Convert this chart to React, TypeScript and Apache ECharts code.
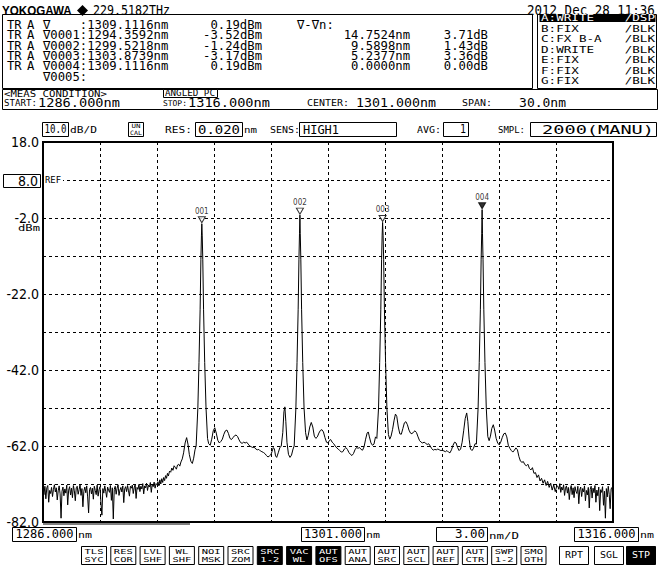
import React, { useEffect, useRef } from "react";
import * as echarts from "echarts";

// ---------- axis setup ----------
const X_MIN = 1286;
const X_MAX = 1316;
const X_STEP = 3;
const Y_MIN = -82;
const Y_MAX = 18;
const Y_STEP = 10;
const yLabelValues = [18, -2, -22, -42, -62, -82];
const yLabelTexts = ["18.0", "-2.0", "-22.0", "-42.0", "-62.0", "-82.0"];

// ---------- trace data (nm, dBm) ----------
const noiseStep = 0.05;
const noiseLeftStart = 1286.0;
const noiseLeft = [
  -73.2, -74.8, -72.6, -75.9, -73.0, -72.4, -76.8, -73.7, -74.5, -72.9,
  -75.3, -73.4, -72.2, -74.1, -73.0, -76.2, -73.8, -72.5, -74.6, -81.0,
  -73.9, -72.8, -75.1, -73.3, -74.4, -72.3, -77.5, -73.6, -72.7, -74.9,
  -73.1, -75.6, -72.4, -73.8, -76.4, -73.0, -72.6, -74.7, -73.5, -72.1,
  -75.0, -73.2, -78.0, -73.9, -72.8, -74.3, -72.5, -75.4, -79.6, -73.4,
  -72.9, -74.6, -73.1, -76.0, -72.6, -73.7, -74.8, -72.3, -75.2, -73.5,
  -72.7, -77.0, -80.2, -73.2, -74.4, -72.5, -73.9, -75.5, -72.8, -73.6,
  -74.2, -72.4, -76.3, -73.0, -81.2, -73.4, -72.6, -74.7, -73.1, -72.2,
  -75.0, -73.6, -72.9, -74.1, -72.5, -76.9, -73.3, -72.7, -74.0, -72.4,
  -73.8, -75.2, -72.6, -73.1, -72.3, -74.5, -73.0, -72.2, -75.8, -72.9,
  -73.4, -72.1, -74.0, -72.6, -73.3, -71.9, -74.6, -72.5, -73.0, -71.8,
  -73.7, -72.3, -72.8, -71.6, -74.2, -72.0, -72.7, -71.5, -73.1, -71.9,
  -72.2,
];

const riseLeft = [
  [1292.05, -71.4], [1292.10, -72.5], [1292.15, -70.9], [1292.20, -72.0], [1292.25, -70.6],
  [1292.30, -71.6], [1292.35, -70.3], [1292.40, -71.1], [1292.45, -69.8], [1292.50, -70.5],
  [1292.55, -69.2], [1292.60, -69.9], [1292.66, -68.6], [1292.72, -68.9], [1292.78, -67.8],
  [1292.84, -68.4], [1292.90, -67.2], [1292.96, -67.6], [1293.02, -68.1], [1293.08, -67.0],
  [1293.14, -66.8], [1293.20, -67.3], [1293.26, -66.2], [1293.33, -65.4], [1293.40, -63.8],
  [1293.48, -61.2], [1293.56, -59.8], [1293.63, -61.5], [1293.70, -64.2], [1293.78, -66.0],
  [1293.86, -66.6], [1293.93, -65.2], [1294.00, -63.0],
];

const peak1 = [
  [1294.06, -62.0], [1294.15, -52.0], [1294.21, -40.0], [1294.27, -26.0], [1294.31, -13.0],
  [1294.34, -6.5], [1294.3592, -3.52], [1294.38, -6.5], [1294.41, -13.0], [1294.45, -26.0],
  [1294.51, -40.0], [1294.58, -52.0], [1294.66, -60.0],
];

const between12 = [
  [1294.72, -61.4], [1294.80, -61.8], [1294.88, -60.2], [1294.96, -58.0], [1295.04, -57.2],
  [1295.12, -58.6], [1295.20, -60.5], [1295.28, -61.2], [1295.36, -60.8], [1295.44, -60.2],
  [1295.52, -58.9], [1295.60, -58.0], [1295.68, -57.8], [1295.76, -58.7], [1295.84, -60.0],
  [1295.92, -60.3], [1296.00, -59.8], [1296.08, -59.3], [1296.16, -59.1], [1296.24, -59.5],
  [1296.32, -60.4], [1296.40, -61.1], [1296.48, -61.3], [1296.56, -61.0], [1296.64, -61.2],
  [1296.72, -61.0], [1296.80, -61.5], [1296.88, -62.0], [1296.96, -62.2], [1297.04, -62.4],
  [1297.12, -62.3], [1297.20, -62.8], [1297.28, -63.0], [1297.36, -62.9], [1297.44, -63.3],
  [1297.52, -63.5], [1297.60, -63.7], [1297.68, -64.0], [1297.76, -64.5], [1297.84, -64.9],
  [1297.92, -64.6], [1298.00, -64.2], [1298.06, -63.4], [1298.12, -62.4], [1298.18, -62.8],
  [1298.24, -64.6], [1298.30, -65.0], [1298.38, -63.8], [1298.46, -62.5], [1298.54, -62.0],
  [1298.62, -58.5], [1298.68, -53.0], [1298.73, -51.7], [1298.78, -55.5], [1298.84, -61.0],
  [1298.92, -64.2], [1299.00, -65.0], [1299.08, -64.4], [1299.16, -62.8],
];

const peak2 = [
  [1299.22, -62.0], [1299.31, -52.0], [1299.37, -40.0], [1299.43, -26.0], [1299.47, -13.0],
  [1299.50, -6.0], [1299.5218, -1.24], [1299.54, -6.0], [1299.57, -13.0], [1299.61, -26.0],
  [1299.67, -40.0], [1299.74, -52.0], [1299.82, -58.5],
];

const between23 = [
  [1299.89, -60.4], [1299.96, -59.2], [1300.04, -57.0], [1300.12, -55.8], [1300.20, -57.0],
  [1300.28, -59.4], [1300.36, -60.0], [1300.44, -59.6], [1300.52, -58.6], [1300.60, -57.9],
  [1300.68, -57.7], [1300.76, -58.3], [1300.84, -59.8], [1300.92, -61.0], [1301.00, -61.2],
  [1301.08, -60.5], [1301.14, -60.3], [1301.22, -61.0], [1301.30, -61.4], [1301.38, -62.0],
  [1301.46, -62.5], [1301.54, -62.8], [1301.62, -63.2], [1301.70, -63.6], [1301.78, -63.5],
  [1301.86, -62.8], [1301.94, -62.4], [1302.02, -62.9], [1302.10, -63.7], [1302.18, -64.2],
  [1302.26, -64.5], [1302.34, -64.0], [1302.42, -63.0], [1302.50, -62.4], [1302.58, -62.6],
  [1302.66, -62.4], [1302.74, -62.9], [1302.82, -63.1], [1302.90, -62.2], [1302.98, -60.2],
  [1303.06, -58.6], [1303.12, -58.3], [1303.18, -59.6], [1303.26, -61.2], [1303.34, -61.8],
  [1303.42, -61.5], [1303.50, -59.6],
];

const peak3 = [
  [1303.57, -60.0], [1303.66, -52.0], [1303.72, -40.0], [1303.78, -26.0], [1303.82, -13.0],
  [1303.85, -6.5], [1303.8739, -3.17], [1303.90, -6.5], [1303.93, -13.0], [1303.97, -26.0],
  [1304.03, -40.0], [1304.10, -52.0], [1304.18, -59.0],
];

const between34 = [
  [1304.25, -60.2], [1304.32, -59.4], [1304.40, -57.6], [1304.48, -55.2], [1304.55, -53.6],
  [1304.62, -54.2], [1304.70, -57.0], [1304.78, -58.8], [1304.86, -58.9], [1304.94, -57.4],
  [1305.02, -55.9], [1305.10, -55.6], [1305.18, -56.4], [1305.26, -57.8], [1305.34, -58.6],
  [1305.42, -58.8], [1305.50, -58.3], [1305.58, -58.0], [1305.66, -58.5], [1305.74, -59.6],
  [1305.82, -60.6], [1305.90, -61.0], [1305.98, -61.2], [1306.06, -61.0], [1306.14, -61.3],
  [1306.22, -61.6], [1306.30, -61.4], [1306.38, -62.0], [1306.46, -62.7], [1306.54, -63.1],
  [1306.62, -62.9], [1306.70, -63.0], [1306.78, -62.8], [1306.86, -63.0], [1306.94, -63.2],
  [1307.02, -63.1], [1307.10, -63.3], [1307.18, -63.5], [1307.26, -63.2], [1307.34, -63.6],
  [1307.42, -63.8], [1307.50, -63.0], [1307.58, -61.8], [1307.66, -61.0], [1307.74, -61.2],
  [1307.82, -62.4], [1307.90, -63.2], [1307.98, -62.8], [1308.06, -61.0], [1308.14, -58.0],
  [1308.22, -54.8], [1308.30, -53.3], [1308.36, -55.5], [1308.43, -60.2], [1308.50, -62.8],
  [1308.58, -63.2], [1308.66, -62.6], [1308.74, -61.4],
];

const peak4 = [
  [1308.81, -61.5], [1308.90, -52.0], [1308.96, -40.0], [1309.02, -26.0], [1309.06, -13.0],
  [1309.09, -6.0], [1309.1116, 0.19], [1309.13, -6.0], [1309.16, -13.0], [1309.20, -26.0],
  [1309.26, -40.0], [1309.33, -52.0], [1309.41, -59.5],
];

const fallRight = [
  [1309.48, -60.6], [1309.55, -59.4], [1309.62, -57.4], [1309.70, -56.4], [1309.77, -57.8],
  [1309.85, -60.0], [1309.93, -61.2], [1310.01, -61.7], [1310.09, -61.0], [1310.17, -59.8],
  [1310.25, -58.8], [1310.33, -58.6], [1310.41, -59.6], [1310.49, -61.8], [1310.57, -62.6],
  [1310.65, -63.2], [1310.73, -63.6], [1310.81, -63.1], [1310.89, -62.5], [1310.97, -63.0],
  [1311.05, -64.8], [1311.13, -66.0], [1311.21, -66.3], [1311.28, -66.1], [1311.36, -66.9],
  [1311.44, -67.2], [1311.52, -66.8], [1311.60, -67.9], [1311.68, -68.3], [1311.76, -67.7],
  [1311.84, -69.2], [1311.92, -69.0], [1312.00, -70.3], [1312.08, -69.6], [1312.16, -71.2],
  [1312.24, -70.5], [1312.32, -71.8], [1312.40, -70.9], [1312.48, -72.4], [1312.56, -71.3],
  [1312.64, -72.9], [1312.72, -71.8], [1312.80, -73.6], [1312.88, -72.2], [1312.96, -74.0],
  [1313.04, -72.5],
];

const noiseRightStart = 1313.1;
const noiseRight = [
  -72.6, -73.4, -71.9, -74.2, -72.8, -73.6, -72.2, -75.0, -73.1, -72.5,
  -74.4, -72.9, -76.1, -73.3, -72.4, -74.8, -73.0, -75.6, -72.7, -73.9,
  -74.5, -72.6, -77.2, -73.5, -72.8, -75.3, -73.2, -74.1, -72.5, -76.4,
  -73.7, -74.9, -72.9, -78.3, -73.4, -72.6, -75.7, -73.1, -74.3, -72.4,
  -76.8, -73.6, -75.1, -72.8, -79.0, -73.5, -74.2, -72.7, -77.6, -73.9,
  -81.0, -73.2, -75.4, -72.6, -74.7, -78.5, -73.3, -72.9, -75.9,
];

// ---------- markers ----------
const markerNames = ["001", "002", "003", "004"];
const markerWl = [1294.3592, 1299.5218, 1303.8739, 1309.1116];
const markerDbm = [-3.52, -1.24, -3.17, 0.19];
const activeMarker = 3;

// ---------- readout texts ----------
const markerRows = [
  { prefix: "TR", tr: "A", name: "\u2207    :1309.1116nm", level: "0.19dBm", dwl: "", dlv: "" },
  { prefix: "TR", tr: "A", name: "\u22070001:1294.3592nm", level: "-3.52dBm", dwl: "14.7524nm", dlv: "3.71dB" },
  { prefix: "TR", tr: "A", name: "\u22070002:1299.5218nm", level: "-1.24dBm", dwl: "9.5898nm", dlv: "1.43dB" },
  { prefix: "TR", tr: "A", name: "\u22070003:1303.8739nm", level: "-3.17dBm", dwl: "5.2377nm", dlv: "3.36dB" },
  { prefix: "TR", tr: "A", name: "\u22070004:1309.1116nm", level: "0.19dBm", dwl: "0.0000nm", dlv: "0.00dB" },
  { prefix: "", tr: "", name: "\u22070005:", level: "", dwl: "", dlv: "" },
];
const traceRows = [
  ["A:WRITE", "/DSP"], ["B:FIX", "/BLK"], ["C:FX B-A", "/BLK"], ["D:WRITE", "/BLK"],
  ["E:FIX", "/BLK"], ["F:FIX", "/BLK"], ["G:FIX", "/BLK"],
];
const softKeys = [
  ["TLS", "SYC"], ["RES", "COR"], ["LVL", "SHF"], ["WL", "SHF"], ["NOI", "MSK"], ["SRC", "ZOM"],
  ["SRC", "1-2"], ["VAC", "WL"], ["AUT", "OFS"], ["AUT", "ANA"], ["AUT", "SRC"], ["AUT", "SCL"],
  ["AUT", "REF"], ["AUT", "CTR"], ["SWP", "1-2"], ["SMO", "OTH"],
];
const softKeysDark = [6, 7, 8];
const bigKeys = ["RPT", "SGL", "STP"];

const MONO = '"DejaVu Sans Mono", "Liberation Mono", monospace';
const NARROW = '"Liberation Sans Narrow", "DejaVu Sans Condensed", sans-serif';
const SANS = '"Liberation Sans", Arial, sans-serif';
const ADV = 0.602;

type TOpt = { fs?: number; w?: number; sx?: number; sy?: number; align?: string; fill?: string; family?: string; weight?: string };
function txt(text: string, x: number, y: number, o: TOpt = {}) {
  const fs = o.fs ?? 14;
  const align = o.align ?? "left";
  let sx = o.sx ?? 1;
  if (o.w) sx = o.w / (text.length * ADV * fs);
  const family = o.family ?? MONO;
  const weight = o.weight ?? "normal";
  return {
    type: "text",
    x,
    y,
    scaleX: sx,
    scaleY: o.sy ?? 1,
    z: 100,
    silent: true,
    style: {
      text,
      fill: o.fill ?? "#000",
      font: `${weight} ${fs}px ${family}`,
      textAlign: align,
      textVerticalAlign: "middle",
      align,
      verticalAlign: "middle",
    },
  };
}
function box(x: number, y: number, w: number, h: number, fill = "#fff", z = 90) {
  return {
    type: "rect",
    z,
    silent: true,
    shape: { x: x + 0.5, y: y + 0.5, width: w, height: h },
    style: { fill, stroke: "#000", lineWidth: 1 },
  };
}

function buildGraphic() {
  const g: any[] = [];
  // header
  g.push(txt("YOKOGAWA", 2, 10.5, { family: SANS, weight: "bold", fs: 12.5, sx: 0.93 }));
  g.push({
    type: "polygon",
    z: 100,
    shape: { points: [[82.5, 5], [88, 10.5], [82.5, 16], [77, 10.5]] },
    style: { fill: "#000" },
  });
  g.push(txt("229.5182THz", 93, 10.5, { w: 77 }));
  g.push(txt("2012 Dec 28 11:36", 527, 10.5, { w: 128 }));

  // marker box
  g.push(box(2, 14, 530, 74, "#fff", 80));
  const rowY = [24.5, 34.8, 45.1, 55.4, 65.7, 76];
  markerRows.forEach((r, i) => {
    const y = rowY[i];
    const o = { fs: 12.5, sx: 0.98, sy: 1.05 };
    if (r.prefix) g.push(txt(r.prefix, 7, y, o));
    if (r.tr) g.push(txt(r.tr, 27, y, o));
    g.push(txt(r.name, 43, y, o));
    if (r.level) g.push(txt(r.level, 262, y, { ...o, align: "right" }));
    if (r.dwl) g.push(txt(r.dwl, 410, y, { ...o, align: "right" }));
    if (r.dlv) g.push(txt(r.dlv, 488, y, { ...o, align: "right" }));
  });
  g.push(txt("\u2207-\u2207n:", 297, rowY[0], { fs: 12.5, sx: 0.98, sy: 1.05 }));

  // trace list box
  g.push(box(537, 14, 119, 74, "#fff", 80));
  g.push({ type: "rect", z: 95, shape: { x: 539.5, y: 15, width: 116, height: 7 }, style: { fill: "#000" } });
  const trY = [18.3, 28.8, 39.3, 49.8, 60.3, 70.8, 81.3];
  traceRows.forEach((r, i) => {
    const fill = i === 0 ? "#fff" : "#000";
    g.push(txt(r[0], 541, trY[i], { fs: 9, sx: 1.4, fill }));
    g.push(txt(r[1], 655, trY[i], { fs: 9, sx: 1.4, fill, align: "right" }));
  });

  // measurement condition box
  g.push(box(2, 89, 655, 20, "#fff", 80));
  g.push(txt("<MEAS CONDITION>", 4, 94, { fs: 8, w: 103 }));
  g.push(box(163, 89, 54, 8, "#fff", 91));
  g.push(txt("ANGLED PC", 165, 93.5, { fs: 8, w: 50 }));
  g.push(txt("START:", 4, 103.5, { fs: 8, w: 33 }));
  g.push(txt("1286.000nm", 38, 102.3, { fs: 12, w: 82 }));
  g.push(txt("STOP:", 163, 103.5, { fs: 8, w: 24 }));
  g.push(txt("1316.000nm", 188, 102.3, { fs: 12, w: 82 }));
  g.push(txt("CENTER:", 307, 103.5, { fs: 8, w: 42 }));
  g.push(txt("1301.000nm", 356, 102.3, { fs: 12, w: 80 }));
  g.push(txt("SPAN:", 462, 103.5, { fs: 8, w: 30 }));
  g.push(txt("30.0nm", 566, 102.3, { fs: 12, w: 47, align: "right" }));

  // settings row
  const sy = 129.5;
  g.push(box(42, 122, 26, 14));
  g.push(txt("10.0", 55.5, sy, { fs: 12, w: 22, align: "center" }));
  g.push(txt("dB/D", 70, sy + 1, { fs: 8, w: 27 }));
  g.push(box(128, 122, 15, 14));
  g.push(txt("UN", 136, 126.3, { fs: 6, w: 9, align: "center" }));
  g.push(txt("CAL", 136, 132.6, { fs: 6, w: 12, align: "center" }));
  g.push(txt("RES:", 165, sy + 1, { fs: 8, w: 27 }));
  g.push(box(195, 122, 47, 14));
  g.push(txt("0.020", 219, sy, { fs: 12, w: 42, align: "center" }));
  g.push(txt("nm", 244, sy + 1, { fs: 8, w: 13 }));
  g.push(txt("SENS:", 270, sy + 1, { fs: 8, w: 30 }));
  g.push(box(299, 122, 97, 14));
  g.push(txt("HIGH1", 303, sy, { fs: 12, w: 36 }));
  g.push(txt("AVG:", 417, sy + 1, { fs: 8, w: 24 }));
  g.push(box(443, 122, 25, 14));
  g.push(txt("1", 466, sy, { fs: 12, w: 6, align: "right" }));
  g.push(txt("SMPL:", 498, sy + 1, { fs: 8, w: 27 }));
  g.push(box(530, 122, 126, 14));
  g.push(txt("2000(MANU)", 654, sy, { fs: 12, w: 112, align: "right" }));

  // y-axis extras
  g.push(txt("dBm", 40, 228, { fs: 8, w: 22, align: "right" }));
  g.push(box(3, 174, 37, 13));
  g.push(txt("8.0", 38, 181, { fs: 14, family: NARROW, align: "right" }));
  g.push({ type: "rect", z: 95, shape: { x: 44, y: 176, width: 19, height: 9 }, style: { fill: "#fff" } });
  g.push(txt("REF", 45, 180.5, { fs: 8, w: 16 }));
  g.push({ type: "line", z: 100, shape: { x1: 43, y1: 524, x2: 190, y2: 524 }, style: { stroke: "#000", lineWidth: 1 } });

  // bottom readout
  const by = 534.5;
  g.push(box(12, 527, 64, 14));
  g.push(txt("1286.000", 44.5, by, { fs: 12, w: 58, align: "center" }));
  g.push(txt("nm", 78, by + 1, { fs: 8, w: 14 }));
  g.push(box(301, 527, 63, 14));
  g.push(txt("1301.000", 333, by, { fs: 12, w: 58, align: "center" }));
  g.push(txt("nm", 366, by + 1, { fs: 8, w: 14 }));
  g.push(box(436, 527, 51, 14));
  g.push(txt("3.00", 485, by, { fs: 12, w: 30, align: "right" }));
  g.push(txt("nm/D", 489, by + 1, { fs: 8, w: 30 }));
  g.push(box(574, 527, 64, 14));
  g.push(txt("1316.000", 606.5, by, { fs: 12, w: 58, align: "center" }));
  g.push(txt("nm", 640, by + 1, { fs: 8, w: 14 }));

  // soft keys
  softKeys.forEach((k, i) => {
    const x = 81 + i * 29.3;
    const dark = softKeysDark.indexOf(i) >= 0;
    g.push(box(x, 546, 25, 18, dark ? "#000" : "#fff"));
    const fill = dark ? "#fff" : "#000";
    const cx = x + 13;
    g.push(txt(k[0], cx, 551.8, { fs: 7, w: k[0].length * 6.3, align: "center", fill }));
    g.push(txt(k[1], cx, 559.6, { fs: 7, w: k[1].length * 6.3, align: "center", fill }));
  });
  const bigX = [559, 594, 626];
  bigKeys.forEach((k, i) => {
    const dark = i === 2;
    g.push(box(bigX[i], 546, 29, 18, dark ? "#000" : "#fff"));
    g.push(txt(k, bigX[i] + 15, 555.8, { fs: 8, w: 18, align: "center", fill: dark ? "#fff" : "#000" }));
  });
  return g;
}

function buildTrace() {
  const out: number[][] = [];
  noiseLeft.forEach((v, i) => out.push([+(noiseLeftStart + i * noiseStep).toFixed(3), v]));
  [riseLeft, peak1, between12, peak2, between23, peak3, between34, peak4, fallRight].forEach((seg) =>
    seg.forEach((p) => out.push(p))
  );
  noiseRight.forEach((v, i) => out.push([+(noiseRightStart + i * noiseStep).toFixed(3), v]));
  return out;
}

export default function App() {
  const ref = useRef<HTMLDivElement>(null);
  useEffect(() => {
    if (!ref.current) return;
    const chart = echarts.init(ref.current, undefined, { renderer: "svg" });
    const dash = { color: "#000", width: 1, type: [3, 3] as any };
    chart.setOption({
      animation: false,
      backgroundColor: "#fff",
      grid: {
        left: 43,
        top: 142,
        width: 570,
        height: 380,
        show: true,
        borderColor: "#000",
        borderWidth: 2,
        backgroundColor: "transparent",
        z: 5,
      },
      xAxis: {
        type: "value",
        min: X_MIN,
        max: X_MAX,
        interval: X_STEP,
        axisLabel: { show: false },
        axisTick: { show: false },
        axisLine: { show: false },
        splitLine: { show: true, lineStyle: dash },
      },
      yAxis: {
        type: "value",
        min: Y_MIN,
        max: Y_MAX,
        interval: Y_STEP,
        axisTick: { show: false },
        axisLine: { show: false },
        splitLine: { show: true, lineStyle: dash },
        axisLabel: {
          show: true,
          margin: 4,
          color: "#000",
          fontSize: 14,
          fontFamily: NARROW,
          showMinLabel: true,
          showMaxLabel: true,
          formatter: (v: number) => {
            const i = yLabelValues.indexOf(Math.round(v));
            return i >= 0 ? yLabelTexts[i] : "";
          },
        },
      },
      series: [
        {
          type: "line",
          data: buildTrace(),
          showSymbol: false,
          symbol: "none",
          silent: true,
          lineStyle: { color: "#000", width: 1 },
          z: 3,
        },
        {
          type: "scatter",
          silent: true,
          z: 10,
          symbol: "path://M0,0L10,0L5,9Z",
          symbolSize: [7, 6],
          symbolOffset: [0, -4],
          data: markerWl.map((w, i) => ({
            value: [w, markerDbm[i]],
            name: markerNames[i],
            itemStyle: {
              color: i === activeMarker ? "#000" : "#fff",
              borderColor: "#000",
              borderWidth: 1,
            },
          })),
          label: {
            show: true,
            position: "top",
            distance: 1,
            formatter: "{b}",
            fontSize: 8,
            fontFamily: NARROW,
            color: "#000",
          },
        },
      ],
      graphic: { elements: buildGraphic() },
    });
    return () => chart.dispose();
  }, []);
  return (
    <div
      ref={ref}
      style={{ position: "absolute", left: 0, top: 0, width: 662, height: 567, background: "#fff" }}
    />
  );
}
